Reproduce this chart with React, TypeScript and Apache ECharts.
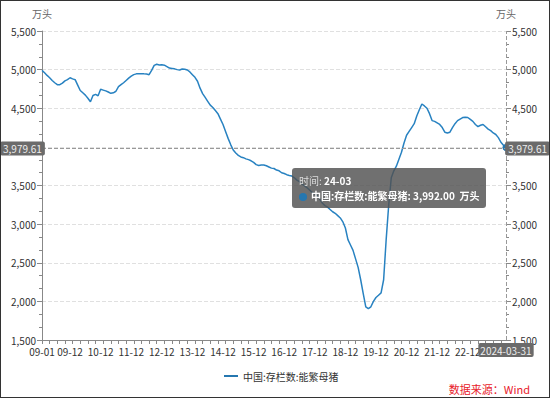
import React, { useEffect, useRef } from 'react';
import * as echarts from 'echarts';

// Monthly categories: 2009-01 .. 2024-03 (month-end dates)
const START_YEAR = 2009;
const MONTH_COUNT = 183;
const pad = (n: number) => (n < 10 ? '0' + n : '' + n);
const categories: string[] = [];
for (let i = 0; i < MONTH_COUNT; i++) {
  const y = START_YEAR + Math.floor(i / 12);
  const m = (i % 12) + 1;
  const last = new Date(Date.UTC(y, m, 0)).getUTCDate();
  categories.push(`${y}-${pad(m)}-${pad(last)}`);
}

const seriesName = '中国:存栏数:能繁母猪';
const unit = '万头';

// 能繁母猪存栏 (万头)
const sowValues: number[] = [
  4990, 4960, 4925, 4895, 4860, 4830, 4805, 4805, 4825, 4855,
  4870, 4895, 4880, 4870, 4800, 4730, 4700, 4670, 4630, 4585,
  4665, 4680, 4662, 4745, 4735, 4725, 4710, 4693, 4700, 4720,
  4780, 4805, 4830, 4860, 4890, 4915, 4935, 4945, 4945, 4945,
  4945, 4943, 4935, 4990, 5055, 5069, 5060, 5062, 5058, 5040,
  5020, 5015, 5010, 5000, 4995, 5008, 5005, 4995, 4970, 4935,
  4900, 4850, 4760, 4690, 4640, 4590, 4540, 4510, 4470, 4430,
  4360, 4290, 4200, 4110, 4030, 3960, 3920, 3890, 3870, 3860,
  3845, 3835, 3820, 3800, 3770, 3760, 3765, 3765, 3755, 3740,
  3725, 3720, 3700, 3690, 3665, 3655, 3640, 3630, 3622, 3600,
  3570, 3550, 3520, 3495, 3470, 3440, 3410, 3390, 3370, 3320,
  3270, 3240, 3220, 3190, 3160, 3140, 3110, 3080, 3030, 2950,
  2800, 2730, 2660, 2550, 2440, 2280, 2100, 1930, 1905, 1930,
  2000, 2050, 2080, 2110, 2280, 2800, 3250, 3600, 3690, 3750,
  3840, 3930, 4050, 4150, 4200, 4250, 4300, 4400, 4480, 4555,
  4530, 4500, 4430, 4340, 4330, 4310, 4290, 4250, 4190, 4180,
  4190, 4250, 4300, 4340, 4360, 4380, 4385, 4380, 4355, 4330,
  4290, 4262, 4280, 4290, 4260, 4230, 4210, 4180, 4160, 4120,
  4060, 4020, 3992,
];

const yMin = 1500;
const yMax = 5500;
const yInterval = 500;
const pointerValue = 3979.61;

const FONT = '"Microsoft YaHei", "Noto Sans CJK SC", sans-serif';
const LINE_COLOR = '#2577b0';

const fmtThousands = (v: number, digits = 0) =>
  Number(v).toLocaleString('en-US', { minimumFractionDigits: digits, maximumFractionDigits: digits });

const shortLabel = (v: string) => v.slice(2, 7);

export default function App() {
  const ref = useRef<HTMLDivElement>(null);

  useEffect(() => {
    document.body.style.margin = '0';
    if (!ref.current) return;
    const chart = echarts.init(ref.current, undefined, { renderer: 'svg' });
    const lastIdx = categories.length - 1;

    const pointerLabel = {
      show: true,
      backgroundColor: '#6b6b6b',
      color: '#eeeeee',
      fontSize: 10,
      fontFamily: FONT,
      padding: [2, 3],
      borderRadius: 2,
      shadowBlur: 0,
    };

    const yAxisBase = (pos: 'left' | 'right', showLine: boolean) => ({
      type: 'value',
      position: pos,
      min: yMin,
      max: yMax,
      interval: yInterval,
      name: unit,
      nameGap: 13,
      nameTextStyle: { color: '#666', fontSize: 10, fontFamily: FONT },
      axisLine: { show: showLine, lineStyle: { color: '#888' } },
      axisTick: { show: true, length: 5, lineStyle: { color: '#888' } },
      minorTick: { show: true, splitNumber: 3, length: 3, lineStyle: { color: '#888' } },
      axisLabel: {
        color: '#333',
        fontSize: 10,
        fontFamily: FONT,
        margin: 6,
        formatter: (v: number) => fmtThousands(v),
      },
      splitLine: { show: pos === 'left', lineStyle: { color: '#e0e0e0', type: 'dashed' } },
      axisPointer: {
        label: {
          ...pointerLabel,
          formatter: (p: any) => fmtThousands(Number(p.value), 2),
        },
      },
    });

    const option: any = {
      animation: false,
      textStyle: { fontFamily: FONT },
      grid: { left: 42, right: 44, top: 31, bottom: 58, containLabel: false },
      legend: {
        show: true,
        left: 219,
        top: 366,
        icon: 'rect',
        itemWidth: 14,
        itemHeight: 2,
        itemGap: 6,
        textStyle: { color: '#333', fontSize: 10, fontFamily: FONT },
        data: [seriesName],
      },
      tooltip: {
        show: true,
        trigger: 'axis',
        alwaysShowContent: true,
        transitionDuration: 0,
        showDelay: 0,
        backgroundColor: 'rgba(80,80,80,0.82)',
        borderWidth: 0,
        padding: [5, 7],
        textStyle: { color: '#fff', fontSize: 10, fontFamily: FONT },
        extraCssText: 'box-shadow:none;border-radius:3px;',
        axisPointer: {
          type: 'cross',
          lineStyle: { color: '#999', type: 'dashed', width: 1 },
          crossStyle: { color: '#999', type: 'dashed', width: 1 },
        },
        formatter: (params: any) => {
          const p = Array.isArray(params) ? params[0] : params;
          const cat = shortLabel(categories[p.dataIndex]);
          const val = fmtThousands(Number(p.value), 2);
          return (
            `<div style="line-height:15px;font-size:10px;font-family:${FONT.replace(/"/g, "'")}">` +
            `<span style="color:#ddd">时间:</span> <b>${cat}</b><br/>` +
            `<span style="display:inline-block;width:8px;height:8px;border-radius:4px;background:${LINE_COLOR};margin-right:4px;vertical-align:-1px"></span>` +
            `<b>${p.seriesName}: ${val}&nbsp;&nbsp;${unit}</b></div>`
          );
        },
      },
      xAxis: {
        type: 'category',
        data: categories,
        boundaryGap: false,
        axisLine: { show: true, lineStyle: { color: '#888' } },
        axisTick: { show: true, length: 4, interval: 2, lineStyle: { color: '#888' } },
        axisLabel: {
          color: '#333',
          fontSize: 10,
          fontFamily: FONT,
          margin: 6,
          interval: (index: number, value: string) =>
            index === 0 ||
            index === lastIdx ||
            (value.slice(5, 7) === '12' && value.slice(0, 4) !== '2023'),
          formatter: (v: string) => shortLabel(v),
        },
        splitLine: { show: false },
        axisPointer: {
          label: { ...pointerLabel, padding: [2, 2], formatter: (p: any) => String(p.value) },
        },
      },
      yAxis: [yAxisBase('left', true), yAxisBase('right', false)],
      graphic: [
        {
          type: 'text',
          right: 20,
          bottom: 4,
          style: {
            text: '数据来源：Wind',
            fill: '#e8202a',
            fontSize: 11,
            fontFamily: FONT,
          },
        },
      ],
      series: [
        {
          name: seriesName,
          type: 'line',
          data: sowValues,
          yAxisIndex: 0,
          showSymbol: false,
          symbol: 'circle',
          symbolSize: 6,
          lineStyle: { color: LINE_COLOR, width: 1.5 },
          itemStyle: { color: LINE_COLOR },
          emphasis: { lineStyle: { width: 1.5 } },
          markPoint: {
            symbol: 'circle',
            symbolSize: 7,
            silent: true,
            label: { show: false },
            itemStyle: { color: LINE_COLOR },
            data: [{ coord: [lastIdx, sowValues[lastIdx]] }],
          },
        },
      ],
    };

    chart.setOption(option);

    const px = chart.convertToPixel({ xAxisIndex: 0 }, categories[lastIdx]) as number;
    const py = chart.convertToPixel({ yAxisIndex: 0 }, pointerValue) as number;
    chart.dispatchAction({ type: 'showTip', x: px - 0.5, y: py });

    return () => {
      chart.dispose();
    };
  }, []);

  return (
    <div style={{ position: 'relative', width: 550, height: 398 }}>
      <div ref={ref} style={{ width: 550, height: 398 }} />
      <div
        style={{
          position: 'absolute',
          left: 0,
          top: 0,
          width: 550,
          height: 398,
          boxSizing: 'border-box',
          border: '1px solid #333',
          pointerEvents: 'none',
        }}
      />
    </div>
  );
}
